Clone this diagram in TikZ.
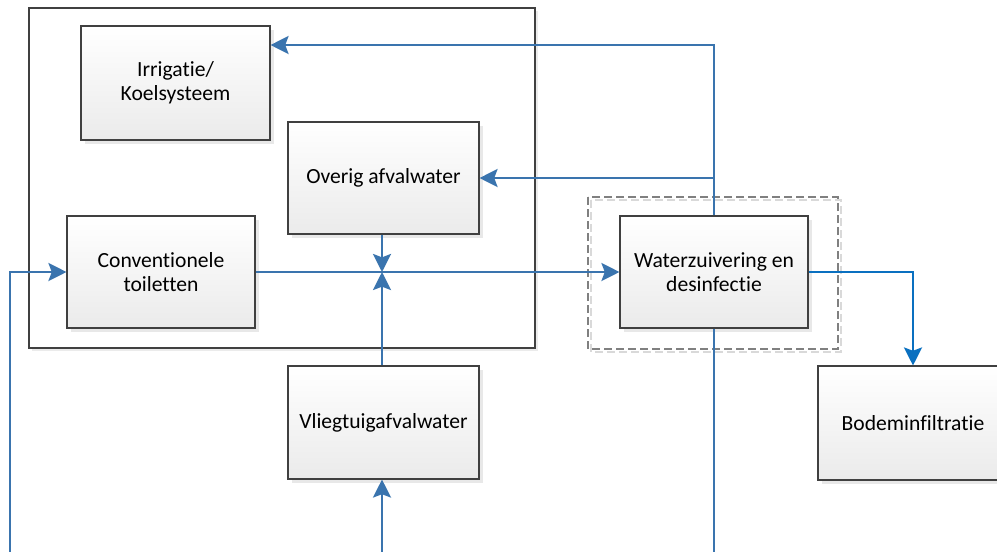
\documentclass[tikz,border=0pt]{standalone}
\usepackage{fontspec}
\setmainfont{Carlito}[Ligatures=NoCommon]
\usetikzlibrary{arrows.meta,shadows}
\definecolor{flowc}{HTML}{3A74AE}
\definecolor{flowd}{HTML}{0A70C0}
\definecolor{boxline}{HTML}{404040}
\tikzset{
  px/.style={x=0.75pt,y=-0.75pt},
  procbox/.style={draw=boxline, line width=0.8pt, top color=white, bottom color=black!8,
    align=center, font=\fontsize{16.2}{18}\selectfont,
    drop shadow={shadow xshift=3pt, shadow yshift=-3pt, fill=black!9, opacity=1}},
  flow/.style={draw=flowc, line width=2pt, -{Stealth[length=13.5pt,width=13.5pt,inset=2.5pt]}},
  flowline/.style={draw=flowc, line width=2pt},
  flowb/.style={draw=flowd, line width=2pt, -{Stealth[length=13.5pt,width=13.5pt,inset=2.5pt]}},
}
\begin{document}
\begin{tikzpicture}[px]
\useasboundingbox (0,0) rectangle (997,551);
\clip (0,0) rectangle (997,551);
% outer group
\fill[black!8] (32,11) rectangle (538,351);
\draw[draw=boxline, line width=0.8pt, fill=white] (29,8) rectangle (535,348);
% dashed group
\draw[black!15, line width=0.8pt, dash pattern=on 6pt off 3pt] (591,200) rectangle (841,352);
\draw[black!50, line width=0.8pt, dash pattern=on 6pt off 3pt] (588,197) rectangle (838,349);

\node[procbox, minimum width=141.75pt, minimum height=85.5pt] (irr) at (175.5,83) {Irrigatie/\\Koelsysteem};
\node[procbox, minimum width=143.25pt, minimum height=84pt] (ov) at (383.5,178) {Overig afvalwater};
\node[procbox, minimum width=141pt, minimum height=84pt] (ct) at (161,272) {Conventionele\\toiletten};
\node[procbox, minimum width=141pt, minimum height=84pt] (wz) at (714,272) {Waterzuivering en\\desinfectie};
\node[procbox, minimum width=143.25pt, minimum height=84.75pt] (vl) at (383.5,422.5) {Vliegtuigafvalwater};
\node[procbox, minimum width=142.5pt, minimum height=85.5pt] (bo) at (913,423) {Bodeminfiltratie};

\coordinate (t1) at (714,45);
\coordinate (xc) at (382,272);
\coordinate (l1) at (10,553);
\coordinate (b1) at (714,553);
\coordinate (b2) at (382,553);

\draw[flow] (wz.north) -- (t1) -- (irr.east |- t1);
\draw[flow] (wz.north |- ov.east) -- (ov.east);
\draw[flow] (ct.east) -- (wz.west);
\draw[flow] (ov.south -| xc) -- (xc);
\draw[flow] (vl.north -| xc) -- (xc);
\draw[flow] (l1) |- (ct.west);
\draw[flowb] (wz.east) -| (bo.north);
\draw[flowline] (wz.south) -- (b1);
\draw[flow] (b2) -- (vl.south -| b2);
\end{tikzpicture}
\end{document}
